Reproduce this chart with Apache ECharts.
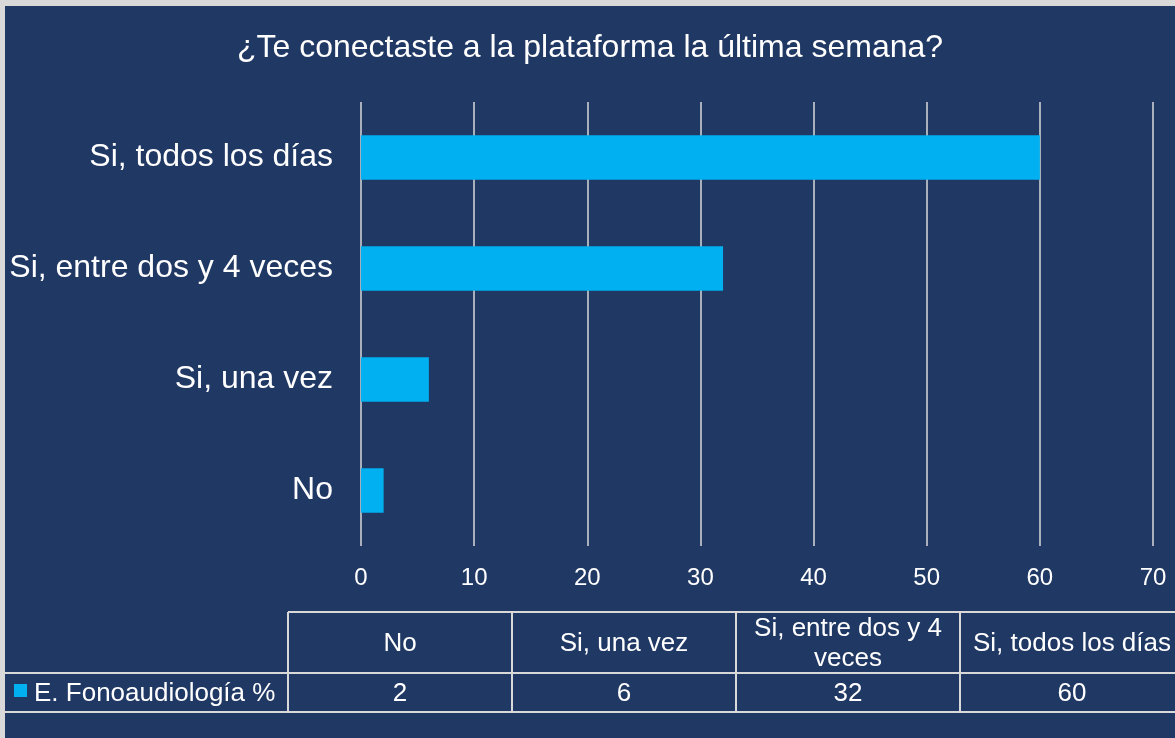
<!DOCTYPE html>
<html lang="es">
<head>
<meta charset="utf-8">
<title>Conexión a la plataforma</title>
<script src="https://cdn.jsdelivr.net/npm/echarts@6/dist/echarts.min.js"></script>
<style>
    html, body { margin: 0; padding: 0; }
    #frame { position: relative; width: 1175px; height: 738px; background: #d9d9d9; overflow: hidden; }
    #chart { position: absolute; left: 5px; top: 6px; width: 1170px; height: 732px; }
</style>
</head>
<body>
<div id="frame"><div id="chart"></div></div>
<script>
    // datos
    var categorias = ['No', 'Si, una vez', 'Si, entre dos y 4 veces', 'Si, todos los días'];
    var cabeceraTabla = ['No', 'Si, una vez', 'Si, entre dos y 4\nveces', 'Si, todos los días'];
    var valores = [2, 6, 32, 60];
    var serieNombre = 'E. Fonoaudiología %';
    var ejeX = { min: 0, max: 70, interval: 10 };

    var azul = '#00B0F0';
    var fondo = '#203864';
    var linea = '#d9d9d9';
    var fuente = '"Liberation Sans", Arial, sans-serif';

    // tabla de datos debajo del gráfico
    var tabla = { x0: 283, colW: 224, yTop: 606, yMid: 667, yBot: 706 };
    var graficos = [];
    function linea_(x1, y1, x2, y2) {
        graficos.push({ type: 'line', shape: { x1: x1, y1: y1, x2: x2, y2: y2 },
            style: { stroke: linea, lineWidth: 2 }, silent: true });
    }
    var xFin = tabla.x0 + tabla.colW * categorias.length;
    linea_(tabla.x0, tabla.yTop, xFin, tabla.yTop);
    linea_(0, tabla.yMid, xFin, tabla.yMid);
    linea_(0, tabla.yBot, xFin, tabla.yBot);
    for (var i = 0; i <= categorias.length; i++) {
        var xc = tabla.x0 + tabla.colW * i;
        linea_(xc, tabla.yTop, xc, tabla.yBot);
    }
    cabeceraTabla.forEach(function (txt, i) {
        var cx = tabla.x0 + tabla.colW * (i + 0.5);
        graficos.push({ type: 'text', x: cx, y: (tabla.yTop + tabla.yMid) / 2 + 1,
            style: { text: txt, fill: '#fff', font: '26px ' + fuente, align: 'center',
                verticalAlign: 'middle', lineHeight: 30 }, silent: true });
        graficos.push({ type: 'text', x: cx, y: (tabla.yMid + tabla.yBot) / 2 + 1,
            style: { text: String(valores[i]), fill: '#fff', font: '26px ' + fuente,
                align: 'center', verticalAlign: 'middle' }, silent: true });
    });
    graficos.push({ type: 'rect', shape: { x: 9, y: 678, width: 13, height: 13 },
        style: { fill: azul }, silent: true });
    graficos.push({ type: 'text', x: 29, y: (tabla.yMid + tabla.yBot) / 2 + 1,
        style: { text: serieNombre, fill: '#fff', font: '26px ' + fuente,
            verticalAlign: 'middle' }, silent: true });

    var myChart = echarts.init(document.getElementById('chart'));
    var option = {
        backgroundColor: fondo,
        animation: false,
        textStyle: { fontFamily: fuente },
        title: {
            text: '¿Te conectaste a la plataforma la última semana?',
            left: 'center',
            top: 21,
            textStyle: { color: '#fff', fontSize: 32, fontWeight: 'normal', fontFamily: fuente }
        },
        grid: { left: 356, right: 22, top: 96, bottom: 192 },
        xAxis: {
            type: 'value',
            min: ejeX.min,
            max: ejeX.max,
            interval: ejeX.interval,
            axisLine: { show: false },
            axisTick: { show: false },
            axisLabel: { color: '#fff', fontSize: 24, margin: 20, fontFamily: fuente },
            splitLine: { show: true, lineStyle: { color: linea, width: 1.5 } }
        },
        yAxis: {
            type: 'category',
            data: categorias,
            axisLine: { show: false },
            axisTick: { show: false },
            axisLabel: { color: '#fff', fontSize: 32, margin: 28, fontFamily: fuente }
        },
        series: [{
            name: serieNombre,
            type: 'bar',
            data: valores,
            barCategoryGap: '60%',
            itemStyle: { color: azul }
        }],
        graphic: graficos
    };
    myChart.setOption(option);
</script>
</body>
</html>
